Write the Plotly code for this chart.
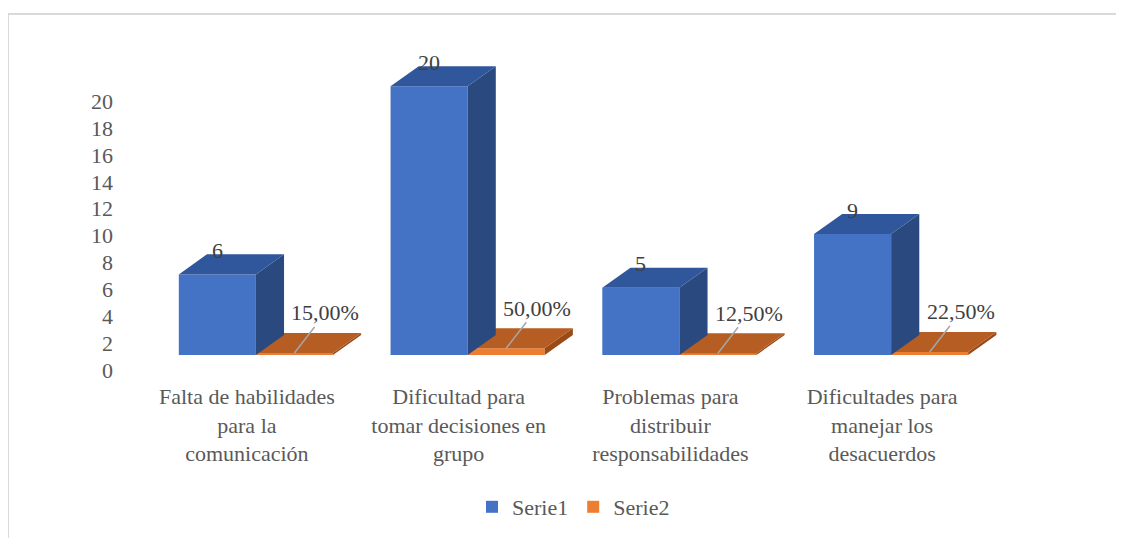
import plotly.graph_objects as go

# data
categories = [
    "Falta de habilidades<br>para la<br>comunicación",
    "Dificultad para<br>tomar decisiones en<br>grupo",
    "Problemas para<br>distribuir<br>responsabilidades",
    "Dificultades para<br>manejar los<br>desacuerdos",
]
serie1 = [6, 20, 5, 9]
serie2 = [0.15, 0.50, 0.125, 0.225]
serie2_labels = ["15,00%", "50,00%", "12,50%", "22,50%"]

W, H = 1124, 538
OFF = 8  # page body margin of the browser
ML, MR, MT, MB = 150 - OFF, 127 + OFF, 46 - OFF, 183 + OFF
Y_MAX = 23

BAR_W = 0.364        # width of each front face (category units)
DX, DY = 0.133, 1.49  # fake 3D depth, in axis units

FONT = "Times New Roman, Liberation Serif, DejaVu Serif, serif"
TXT = "#595959"
BLUE, BLUE_TOP, BLUE_SIDE = "#4472C4", "#30569B", "#2A4A7F"
ORANGE, ORANGE_TOP, ORANGE_SIDE = "#ED7D31", "#B55D22", "#9A4A17"

xs = list(range(len(categories)))


def px_x(p):
    # screen pixel -> paper coordinate
    return (p - OFF - ML) / (W - ML - MR)


def px_y(p):
    return (H - MB - (p - OFF)) / (H - MT - MB)


def faces(values, offset):
    # top and right faces for a set of boxes, as polygons separated by None
    tx, ty, sx, sy = [], [], [], []
    for x, v in zip(xs, values):
        x0 = x + offset
        x1 = x0 + BAR_W
        tx += [x0, x1, x1 + DX, x0 + DX, x0, None]
        ty += [v, v, v + DY, v + DY, v, None]
        sx += [x1, x1, x1 + DX, x1 + DX, x1, None]
        sy += [0, v, v + DY, DY, 0, None]
    return tx, ty, sx, sy


def poly(x, y, color):
    return go.Scatter(x=x, y=y, mode="lines", fill="toself", fillcolor=color,
                      line=dict(width=0), showlegend=False, hoverinfo="skip")


fig = go.Figure()

# Serie2 (orange) boxes first, then Serie1 on top
o_tx, o_ty, o_sx, o_sy = faces(serie2, 0)
b_tx, b_ty, b_sx, b_sy = faces(serie1, -BAR_W)

fig.add_trace(poly(o_sx, o_sy, ORANGE_SIDE))
fig.add_trace(poly(o_tx, o_ty, ORANGE_TOP))
fig.add_trace(poly(b_sx, b_sy, BLUE_SIDE))
fig.add_trace(poly(b_tx, b_ty, BLUE_TOP))

fig.add_trace(go.Bar(x=xs, y=serie1, width=BAR_W, offset=-BAR_W, name="Serie1",
                     marker=dict(color=BLUE, line=dict(width=0))))
fig.add_trace(go.Bar(x=xs, y=serie2, width=BAR_W, offset=0, name="Serie2",
                     marker=dict(color=ORANGE, line=dict(width=0))))

# data labels
for x, v in zip(xs, serie1):
    fig.add_annotation(x=x - BAR_W / 2, y=v + DY, text=str(v), showarrow=False,
                       yanchor="middle", yshift=4,
                       font=dict(family=FONT, size=22, color="#404040"))

for x, v, lab in zip(xs, serie2, serie2_labels):
    fig.add_annotation(x=x + BAR_W / 2, y=v, text=lab, showarrow=True,
                       arrowhead=0, arrowwidth=1.5, arrowcolor="#A6A6A6",
                       ax=31, ay=-40, standoff=0,
                       font=dict(family=FONT, size=22, color="#404040"))

# chart border (cut off at right and bottom like the source image)
fig.add_shape(type="rect", xref="paper", yref="paper",
              x0=px_x(8), x1=px_x(W + 20), y0=px_y(H + 20), y1=px_y(14),
              line=dict(color="#D9D9D9", width=2), fillcolor="rgba(0,0,0,0)",
              layer="below")

fig.update_layout(
    width=W, height=H,
    margin=dict(l=ML, r=MR, t=MT, b=MB),
    plot_bgcolor="white", paper_bgcolor="white",
    barmode="overlay",
    font=dict(family=FONT, size=22, color=TXT),
    xaxis=dict(
        range=[-0.5, 3.5], tickvals=xs, ticktext=categories,
        showgrid=False, zeroline=False, showline=False,
        ticklabelshift=-9, ticklabelstandoff=26,
        tickfont=dict(family=FONT, size=22, color=TXT),
    ),
    yaxis=dict(
        range=[0, Y_MAX], tickvals=list(range(0, 21, 2)),
        showgrid=False, zeroline=False, showline=False,
        ticklabelshift=15, ticklabelstandoff=36,
        tickfont=dict(family=FONT, size=22, color=TXT),
    ),
    legend=dict(orientation="h", x=0.5, xanchor="center", y=px_y(507),
                yanchor="middle", font=dict(family=FONT, size=22, color=TXT)),
)

fig.write_html("out.html")
